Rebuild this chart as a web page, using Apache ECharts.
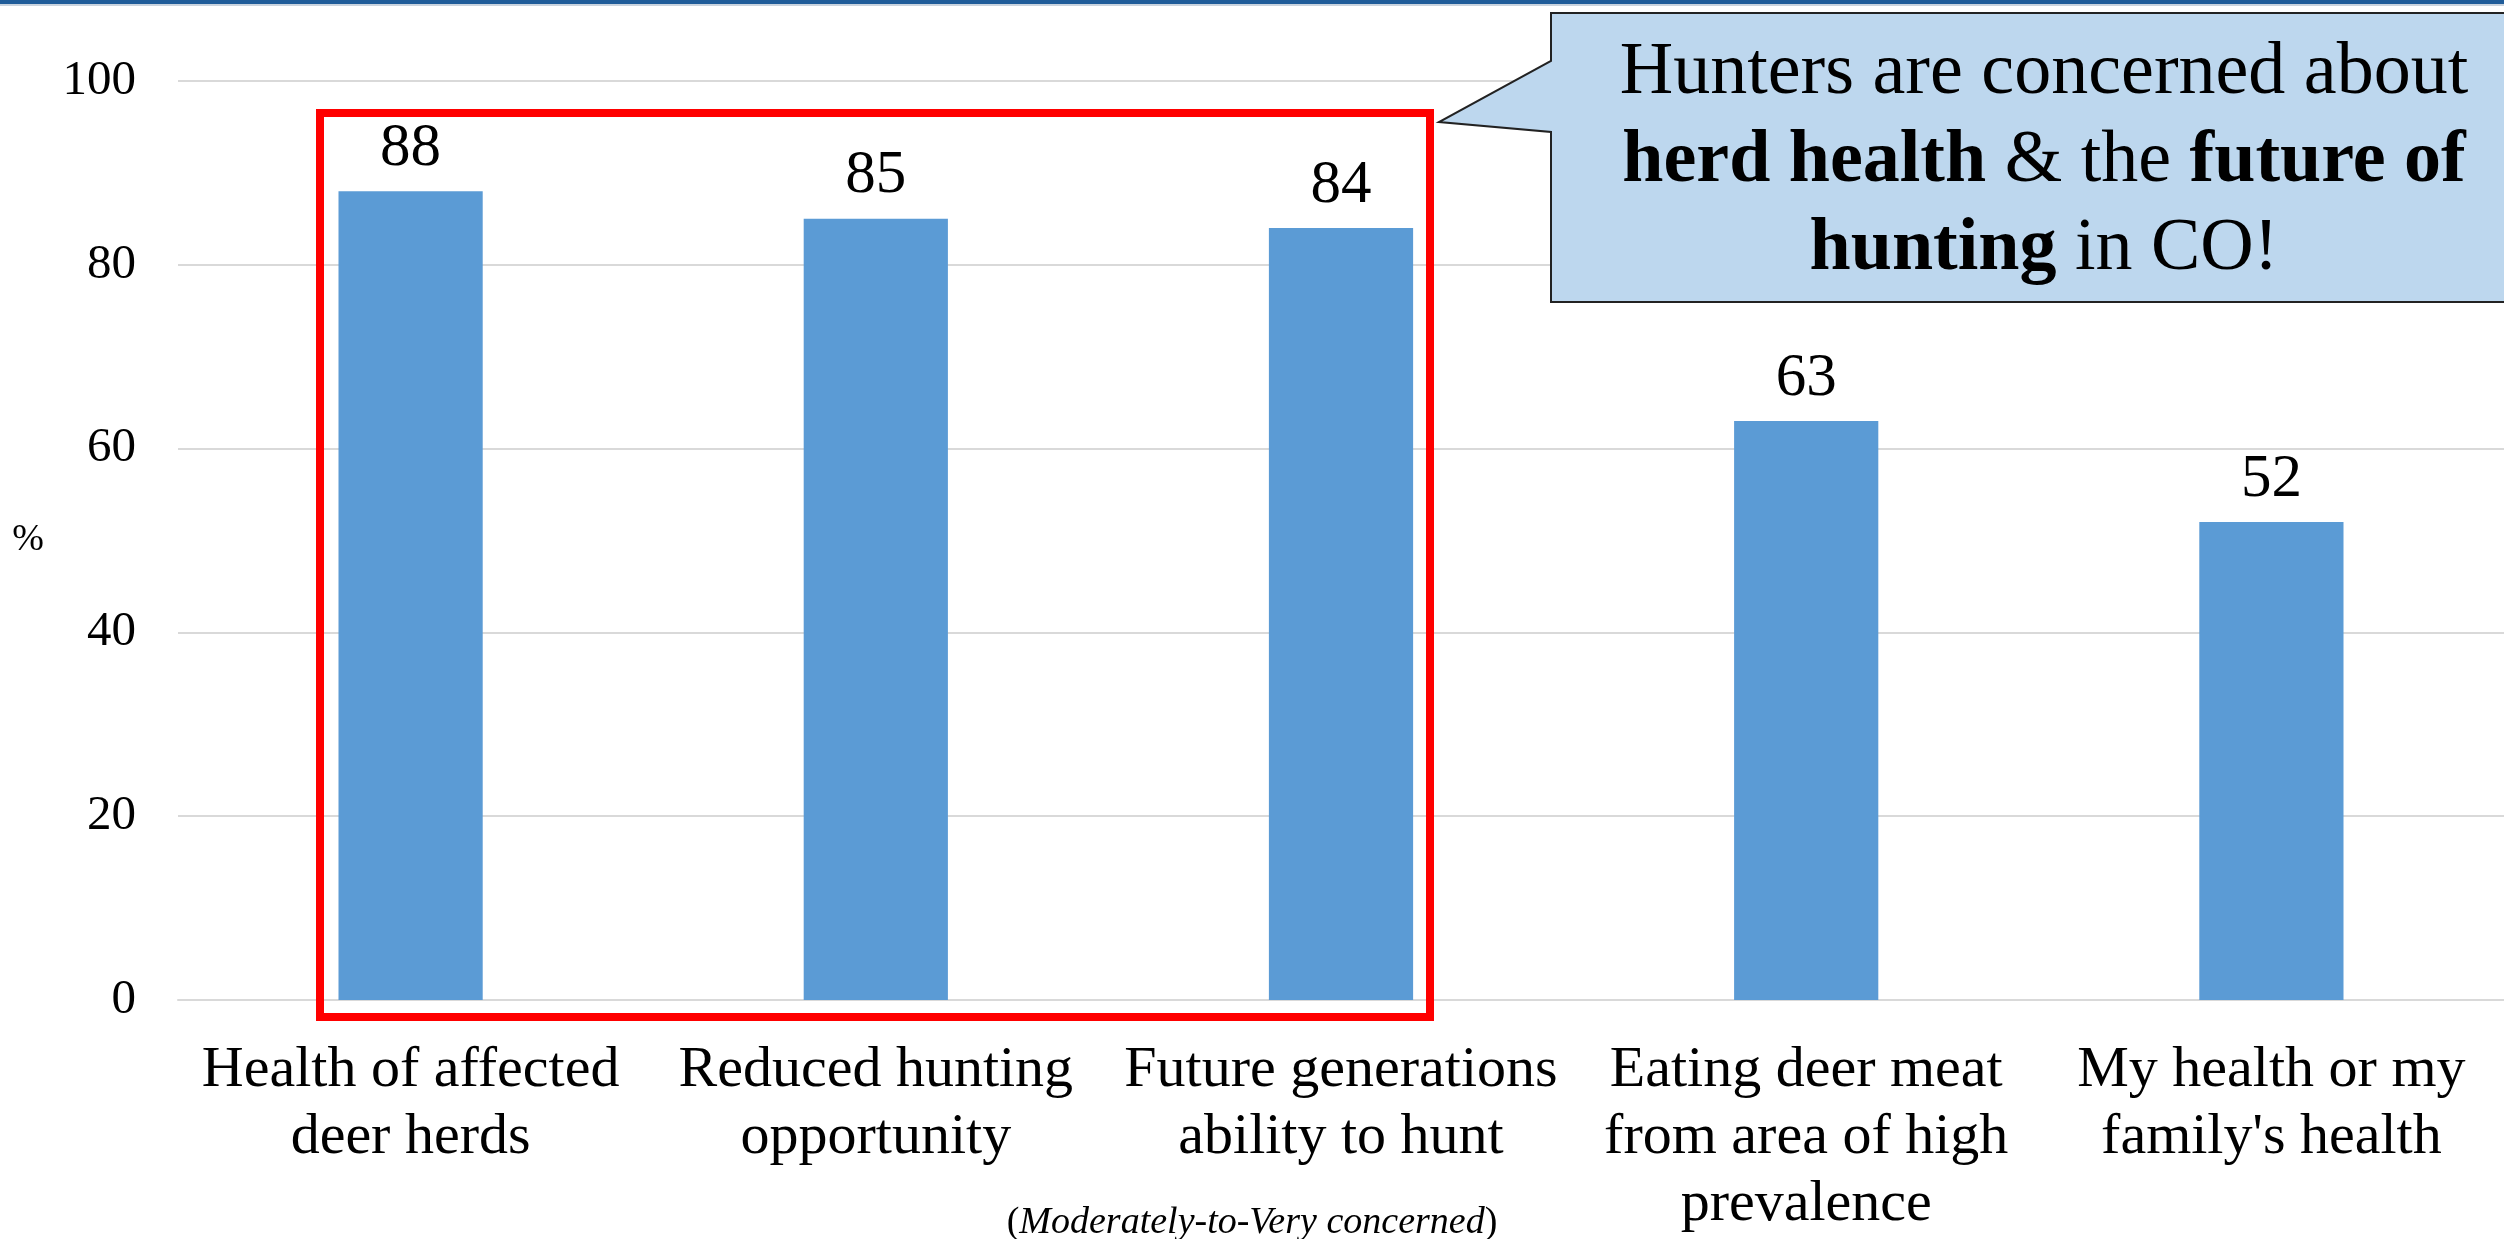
<!DOCTYPE html>
<html>
<head>
<meta charset="utf-8">
<script src="https://cdn.jsdelivr.net/npm/echarts@6/dist/echarts.min.js"></script>
<style>
  html, body { margin: 0; padding: 0; background: #fff; }
  #chart { width: 2504px; height: 1239px; }
</style>
</head>
<body>
<div id="chart"></div>
<script>
// categories and values (% moderately-to-very concerned)
var categories = [
    'Health of affected\ndeer herds',
    'Reduced hunting\nopportunity',
    'Future generations\nability to hunt',
    'Eating deer meat\nfrom area of high\nprevalence',
    'My health or my\nfamily\'s health'
];
var concernPct = [88, 85, 84, 63, 52];
var yTicks = [0, 20, 40, 60, 80, 100];

var serif = 'Times New Roman, Liberation Serif, DejaVu Serif, serif';

var chart = echarts.init(document.getElementById('chart'));

chart.setOption({
    backgroundColor: '#fff',
    animation: false,
    textStyle: { fontFamily: serif },
    grid: {
        left: 178,
        right: 0,
        top: 81,
        bottom: 239
    },
    xAxis: {
        type: 'category',
        data: categories,
        axisLine: { show: true, lineStyle: { color: '#D9D9D9', width: 2 } },
        axisTick: { show: false },
        axisLabel: {
            interval: 0,
            margin: 37,
            color: '#000',
            fontFamily: serif,
            fontSize: 58,
            lineHeight: 67
        }
    },
    yAxis: {
        type: 'value',
        min: yTicks[0],
        max: yTicks[yTicks.length - 1],
        interval: 20,
        name: '%',
        nameLocation: 'middle',
        nameGap: 134,
        nameRotate: 0,
        nameTextStyle: { color: '#000', fontFamily: serif, fontSize: 38 },
        axisLine: { show: false },
        axisTick: { show: false },
        axisLabel: {
            margin: 42,
            color: '#000',
            fontFamily: serif,
            fontSize: 49
        },
        splitLine: { lineStyle: { color: '#D9D9D9', width: 2 } }
    },
    series: [
        {
            name: 'Concerned',
            type: 'bar',
            data: concernPct,
            barWidth: '31%',
            itemStyle: { color: '#5B9BD5' },
            label: {
                show: true,
                position: 'top',
                distance: 12,
                color: '#000',
                fontFamily: serif,
                fontSize: 61
            }
        }
    ],
    graphic: [
        // header band
        { type: 'rect', shape: { x: 0, y: 0, width: 2504, height: 4 }, style: { fill: '#1F5C99' } },
        { type: 'rect', shape: { x: 0, y: 4, width: 2504, height: 2 }, style: { fill: '#C9D3DE' } },
        // red highlight box
        {
            type: 'rect',
            shape: { x: 320, y: 113, width: 1110, height: 904 },
            style: { fill: 'none', stroke: '#FF0000', lineWidth: 8 },
            z: 10
        },
        // callout
        {
            type: 'polygon',
            shape: {
                points: [[1551, 13], [2512, 13], [2512, 302], [1551, 302], [1551, 132], [1439, 122], [1551, 61]]
            },
            style: { fill: '#BDD7EE', stroke: '#222', lineWidth: 2 },
            z: 20
        },
        {
            type: 'text',
            x: 2044,
            y: 162,
            z: 21,
            style: {
                text: 'Hunters are concerned about\n{b|herd health}{n| & the }{b|future of}\n{b|hunting}{n| in CO!}',
                align: 'center',
                verticalAlign: 'middle',
                fill: '#000',
                fontFamily: serif,
                fontSize: 74,
                lineHeight: 88,
                rich: {
                    b: { fontFamily: serif, fontSize: 74, fontWeight: 'bold', lineHeight: 88 },
                    n: { fontFamily: serif, fontSize: 74, lineHeight: 88 }
                }
            }
        },
        // footnote
        {
            type: 'text',
            x: 1252,
            y: 1223,
            style: {
                text: '(' + '{i|Moderately-to-Very concerned}' + ')',
                align: 'center',
                verticalAlign: 'middle',
                fill: '#000',
                fontFamily: serif,
                fontSize: 38,
                rich: {
                    i: { fontFamily: serif, fontStyle: 'italic', fontSize: 38 }
                }
            }
        }
    ]
});
</script>
</body>
</html>
